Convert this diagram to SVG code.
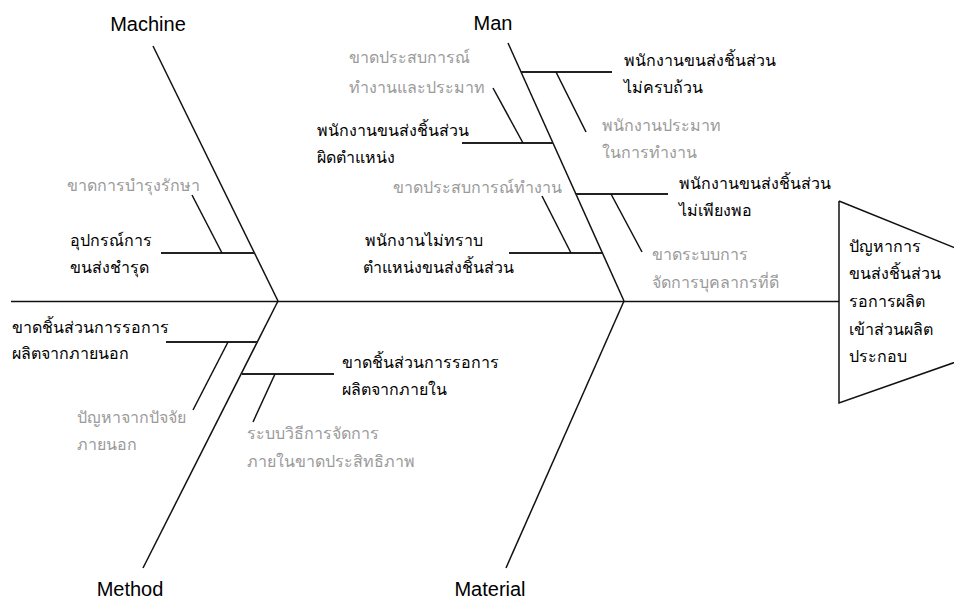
<svg xmlns="http://www.w3.org/2000/svg" width="954" height="601" viewBox="0 0 954 601">
<style>
.ln{stroke:#111;stroke-width:1.5;fill:none}
.sb{stroke:#222;stroke-width:2;fill:none}
.t{font-family:"Liberation Sans","Noto Sans","DejaVu Sans",sans-serif;font-size:16px;fill:#000}
.g{font-family:"Liberation Sans","Noto Sans","DejaVu Sans",sans-serif;font-size:16px;fill:#9a9a9a}
.h{font-family:"Liberation Sans",Arial,sans-serif;font-size:20px;fill:#000}
</style>
<rect width="954" height="601" fill="#fff"/>
<g id="connectors">
<line class="ln" x1="11" y1="301.5" x2="839" y2="301.5"/>
<line class="ln" x1="153" y1="46" x2="278" y2="301"/>
<line class="ln" x1="278" y1="301" x2="143" y2="568"/>
<line class="ln" x1="508" y1="43" x2="624" y2="301"/>
<line class="ln" x1="624" y1="301" x2="506" y2="568"/>
</g>
<g id="head">
<path class="ln" d="M839,201 L970,254 M839,201 L839,403 L970,357"/>
<text class="t"><tspan x="849" y="252">ปัญหาการ</tspan><tspan x="849" y="279">ขนส่งชิ้นส่วน</tspan><tspan x="849" y="307">รอการผลิต</tspan><tspan x="849" y="335">เข้าส่วนผลิต</tspan><tspan x="849" y="362">ประกอบ</tspan></text>
</g>
<g id="machine">
<text class="h" x="148" y="31" text-anchor="middle">Machine</text>
<line class="sb" x1="161" y1="253" x2="255" y2="253"/>
<line class="ln" x1="192" y1="195" x2="222" y2="253"/>
<text class="t"><tspan x="70" y="246">อุปกรณ์การ</tspan><tspan x="70" y="273">ขนส่งชำรุด</tspan></text>
<text class="g" x="67" y="191">ขาดการบำรุงรักษา</text>
</g>
<g id="man">
<text class="h" x="493" y="30" text-anchor="middle">Man</text>
<line class="sb" x1="521" y1="72" x2="612" y2="72"/>
<line class="ln" x1="556" y1="72" x2="586" y2="132"/>
<text class="t"><tspan x="624" y="66">พนักงานขนส่งชิ้นส่วน</tspan><tspan x="624" y="93">ไม่ครบถ้วน</tspan></text>
<text class="g"><tspan x="602" y="131">พนักงานประมาท</tspan><tspan x="602" y="158">ในการทำงาน</tspan></text>
<line class="sb" x1="462" y1="143" x2="553" y2="143"/>
<line class="ln" x1="493" y1="88" x2="523" y2="143"/>
<text class="t"><tspan x="317" y="136">พนักงานขนส่งชิ้นส่วน</tspan><tspan x="317" y="163">ผิดตำแหน่ง</tspan></text>
<text class="g"><tspan x="349" y="63">ขาดประสบการณ์</tspan><tspan x="349" y="93">ทำงานและประมาท</tspan></text>
<line class="sb" x1="576" y1="194" x2="668" y2="194"/>
<line class="ln" x1="611" y1="194" x2="642" y2="252"/>
<text class="t"><tspan x="679" y="189">พนักงานขนส่งชิ้นส่วน</tspan><tspan x="679" y="216">ไม่เพียงพอ</tspan></text>
<text class="g"><tspan x="652" y="260">ขาดระบบการ</tspan><tspan x="652" y="288">จัดการบุคลากรที่ดี</tspan></text>
<line class="sb" x1="509" y1="253" x2="602" y2="253"/>
<line class="ln" x1="542" y1="196" x2="571" y2="253"/>
<text class="t"><tspan x="365" y="246">พนักงานไม่ทราบ</tspan><tspan x="363" y="273">ตำแหน่งขนส่งชิ้นส่วน</tspan></text>
<text class="g" x="393" y="193">ขาดประสบการณ์ทำงาน</text>
</g>
<g id="method">
<text class="h" x="130" y="596" text-anchor="middle">Method</text>
<line class="sb" x1="166" y1="342" x2="257" y2="342"/>
<line class="ln" x1="228" y1="342" x2="193" y2="410"/>
<text class="t"><tspan x="12" y="333">ขาดชิ้นส่วนการรอการ</tspan><tspan x="12" y="359">ผลิตจากภายนอก</tspan></text>
<text class="g"><tspan x="77" y="423">ปัญหาจากปัจจัย</tspan><tspan x="77" y="450">ภายนอก</tspan></text>
<line class="sb" x1="242" y1="374" x2="334" y2="374"/>
<line class="ln" x1="275" y1="374" x2="253" y2="422"/>
<text class="t"><tspan x="342" y="368">ขาดชิ้นส่วนการรอการ</tspan><tspan x="342" y="395">ผลิตจากภายใน</tspan></text>
<text class="g"><tspan x="247" y="439">ระบบวิธีการจัดการ</tspan><tspan x="247" y="467">ภายในขาดประสิทธิภาพ</tspan></text>
</g>
<g id="material">
<text class="h" x="490" y="596" text-anchor="middle">Material</text>
</g>
</svg>
